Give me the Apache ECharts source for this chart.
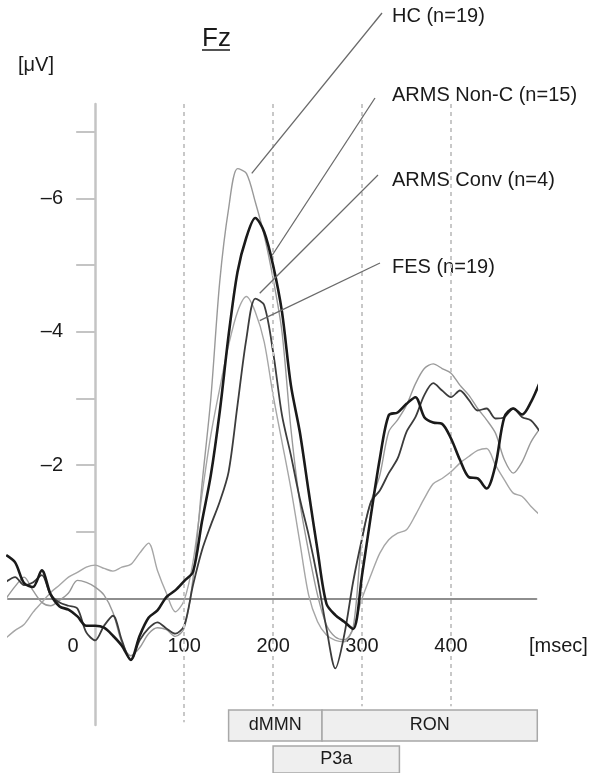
<!DOCTYPE html>
<html><head><meta charset="utf-8">
<script src="https://cdn.jsdelivr.net/npm/echarts@6/dist/echarts.min.js"></script>
<style>html,body{margin:0;padding:0;background:#fff}#c{width:596px;height:773px}</style>
</head><body><div id="c"></div>
<script>
// time axis in msec
const times = [-100,-90,-80,-70,-60,-50,-40,-30,-20,-10,0,10,20,30,40,50,60,70,80,90,100,110,120,130,140,150,160,170,180,190,200,210,220,230,240,250,260,270,280,290,300,310,320,330,340,350,360,370,380,390,400,410,420,430,440,450,460,470,480,490,500];
// amplitudes in microvolts
const hcValues = [0.00,-0.18,-0.32,-0.12,0.06,0.11,0.03,-0.08,-0.27,-0.24,-0.17,-0.05,0.21,0.66,0.86,0.74,0.53,0.44,0.47,0.57,0.45,-0.30,-1.70,-3.00,-4.75,-5.85,-6.45,-6.38,-5.95,-5.45,-4.80,-4.00,-2.55,-1.45,-0.70,-0.05,0.40,0.58,0.62,0.44,-0.90,-1.45,-1.85,-2.50,-2.68,-2.90,-3.22,-3.45,-3.52,-3.45,-3.38,-3.20,-3.05,-2.85,-2.68,-2.48,-2.08,-1.88,-2.05,-2.35,-2.55];
const armsNonCValues = [-0.65,-0.54,-0.23,-0.17,-0.42,-0.06,0.12,0.17,0.27,0.41,0.41,0.44,0.56,0.71,0.92,0.56,0.29,0.18,-0.02,-0.12,-0.26,-0.40,-1.15,-1.85,-2.80,-3.95,-4.90,-5.42,-5.71,-5.50,-5.00,-4.30,-3.20,-2.50,-1.60,-0.72,0.08,0.25,0.35,0.46,-0.35,-1.25,-2.10,-2.75,-2.79,-2.92,-3.02,-2.72,-2.64,-2.62,-2.40,-2.08,-1.82,-1.80,-1.65,-2.00,-2.72,-2.85,-2.76,-2.95,-3.25];
const armsConvValues = [-0.25,-0.32,-0.20,-0.24,-0.35,-0.05,0.06,0.11,0.15,0.51,0.63,0.41,0.26,0.63,0.93,0.63,0.45,0.36,0.45,0.53,0.41,-0.20,-0.72,-1.10,-1.45,-1.90,-2.90,-3.90,-4.50,-4.40,-3.70,-2.75,-2.15,-1.50,-0.95,-0.30,0.45,1.05,0.55,-0.25,-0.90,-1.45,-1.62,-1.88,-2.10,-2.50,-2.72,-3.05,-3.23,-3.12,-3.02,-3.12,-2.98,-2.82,-2.85,-2.70,-2.72,-2.85,-2.72,-2.67,-2.50];
const fesValues = [0.59,0.48,0.39,0.21,0.06,-0.09,-0.20,-0.32,-0.39,-0.47,-0.50,-0.45,-0.41,-0.47,-0.51,-0.68,-0.83,-0.42,-0.08,0.20,0.03,-0.55,-1.55,-2.45,-3.15,-3.80,-4.30,-4.53,-4.30,-3.85,-3.05,-2.35,-1.65,-0.85,-0.05,0.35,0.55,0.63,0.65,0.45,0.00,-0.35,-0.68,-0.88,-0.98,-1.03,-1.25,-1.50,-1.72,-1.80,-1.90,-2.03,-2.13,-2.22,-2.25,-2.00,-1.78,-1.58,-1.53,-1.38,-1.25];

const seriesNames = ['HC (n=19)','ARMS Non-C (n=15)','ARMS Conv (n=4)','FES (n=19)'];
const xTickValues = [0,100,200,300,400];
const yTickValues = [-7,-6,-5,-4,-3,-2,-1];
const yLabelValues = [-6,-4,-2];
const dashMs = [100,200,300,400];
const dashEndUv = [1.86,1.62,1.62,1.62];
const windowNames = ['dMMN','RON','P3a'];
const windowStart = [150,255,200];
const windowEnd = [255,497,342];
const windowRow = [0,0,1];
// where each callout line touches its curve (ms, µV)
const calloutMs = [176,199,185,185];
const calloutUv = [-6.38,-5.15,-4.58,-4.17];

const FONT = '"Liberation Sans", Arial, Helvetica, sans-serif';
const X_MIN = -98, X_MAX = 496, Y_MIN = -7.42, Y_MAX = 1.9;
const TXT = '#1a1a1a';

const chart = echarts.init(document.getElementById('c'), null, {renderer: 'canvas'});
const mk = vals => times.map((t, i) => [t, vals[i]]);
const hiddenX = i => ({type: 'value', gridIndex: i, min: X_MIN, max: X_MAX, show: false});
const hiddenY = i => ({type: 'value', gridIndex: i, inverse: true, min: Y_MIN, max: Y_MAX, show: false});

chart.setOption({
  animation: false,
  grid: [
    {left: 8, right: 59.6, top: 104, bottom: 48, containLabel: false, outerBoundsMode: 'none'},
    {left: 8, right: 59.6, top: 104, bottom: 175, containLabel: false, outerBoundsMode: 'none'},
    {left: 95, right: 59.6, top: 104, bottom: 48, containLabel: false, outerBoundsMode: 'none'}
  ],
  xAxis: [
    {type: 'value', gridIndex: 0, min: X_MIN, max: X_MAX,
      axisLine: {show: true, onZero: true, lineStyle: {color: '#8e8e8e', width: 2}},
      axisTick: {show: false}, splitLine: {show: false}, axisLabel: {show: false}},
    {type: 'value', gridIndex: 1, min: X_MIN, max: X_MAX,
      axisLine: {show: false}, axisTick: {show: false}, splitLine: {show: false},
      axisLabel: {
        customValues: xTickValues, margin: 38, fontSize: 20, color: TXT, fontFamily: FONT,
        formatter: v => v === 0 ? '{z|0}' : String(v),
        rich: {z: {fontSize: 20, fontFamily: FONT, color: TXT, padding: [0, 44, 0, 0]}}
      }},
    hiddenX(2)
  ],
  yAxis: [
    {type: 'value', gridIndex: 0, inverse: true, min: Y_MIN, max: Y_MAX,
      axisLine: {show: true, onZero: true, lineStyle: {color: '#c4c4c4', width: 2.5}},
      axisTick: {show: true, customValues: yTickValues, length: 19, lineStyle: {color: '#c4c4c4', width: 2}},
      axisLabel: {show: false}, splitLine: {show: false}},
    hiddenY(1),
    {type: 'value', gridIndex: 2, inverse: true, min: Y_MIN, max: Y_MAX,
      axisLine: {show: false}, axisTick: {show: false}, splitLine: {show: false},
      axisLabel: {customValues: yLabelValues, margin: 32, fontSize: 20, color: TXT, fontFamily: FONT,
        formatter: v => '\u2013' + Math.abs(v)}}
  ],
  series: [
    {name: seriesNames[3], type: 'line', data: mk(fesValues), showSymbol: false, smooth: 0.3,
      lineStyle: {color: '#a6a6a6', width: 1.4}, z: 2,
      markLine: {silent: true, symbol: 'none', label: {show: false},
        lineStyle: {type: [4, 4], color: '#c8c8c8', width: 2},
        data: dashMs.map((m, i) => [{coord: [m, Y_MIN]}, {coord: [m, dashEndUv[i]]}])}},
    {name: seriesNames[0], type: 'line', data: mk(hcValues), showSymbol: false, smooth: 0.3,
      lineStyle: {color: '#999999', width: 1.4}, z: 3},
    {name: seriesNames[2], type: 'line', data: mk(armsConvValues), showSymbol: false, smooth: 0.3,
      lineStyle: {color: '#3c3c3c', width: 1.8}, z: 4},
    {name: seriesNames[1], type: 'line', data: mk(armsNonCValues), showSymbol: false, smooth: 0.3,
      lineStyle: {color: '#1a1a1a', width: 2.6}, z: 5}
  ]
});

const px = (ms, uv) => chart.convertToPixel({gridIndex: 0}, [ms, uv]);
const g = [];
// title
g.push({type: 'text', left: 202, top: 26, style: {text: 'Fz', font: '26px ' + FONT, fill: TXT}});
g.push({type: 'line', shape: {x1: 202, y1: 50, x2: 230, y2: 50}, style: {stroke: TXT, lineWidth: 1.5}});
g.push({type: 'text', left: 18, top: 55, style: {text: '[\u03bcV]', font: '20px ' + FONT, fill: TXT}});
g.push({type: 'text', left: 529, top: 636, style: {text: '[msec]', font: '20px ' + FONT, fill: TXT}});
// callouts
const labelTop = [6, 85, 170, 257];
const lineStart = [[382, 13], [375, 98], [378, 175], [380, 263]];
[0, 1, 2, 3].forEach(i => {
  const p = px(calloutMs[i], calloutUv[i]);
  g.push({type: 'line', shape: {x1: lineStart[i][0], y1: lineStart[i][1], x2: p[0], y2: p[1]},
    style: {stroke: '#6a6a6a', lineWidth: 1.3}, z: 10});
  g.push({type: 'text', left: 392, top: labelTop[i], style: {text: seriesNames[i], font: '20px ' + FONT, fill: TXT}});
});
// component windows
const rowTop = [710, 746], rowH = [31, 27];
windowNames.forEach((n, i) => {
  const x1 = px(windowStart[i], 0)[0], x2 = px(windowEnd[i], 0)[0];
  const r = windowRow[i];
  g.push({type: 'rect', shape: {x: x1, y: rowTop[r], width: x2 - x1, height: rowH[r]},
    style: {fill: '#efefef', stroke: '#a8a8a8', lineWidth: 1.5}});
  g.push({type: 'text', x: (x1 + x2) / 2, y: rowTop[r] + rowH[r] / 2,
    style: {text: n, font: '18px ' + FONT, fill: TXT, align: 'center', verticalAlign: 'middle'}, z: 5});
});
chart.setOption({graphic: g});
</script></body></html>
